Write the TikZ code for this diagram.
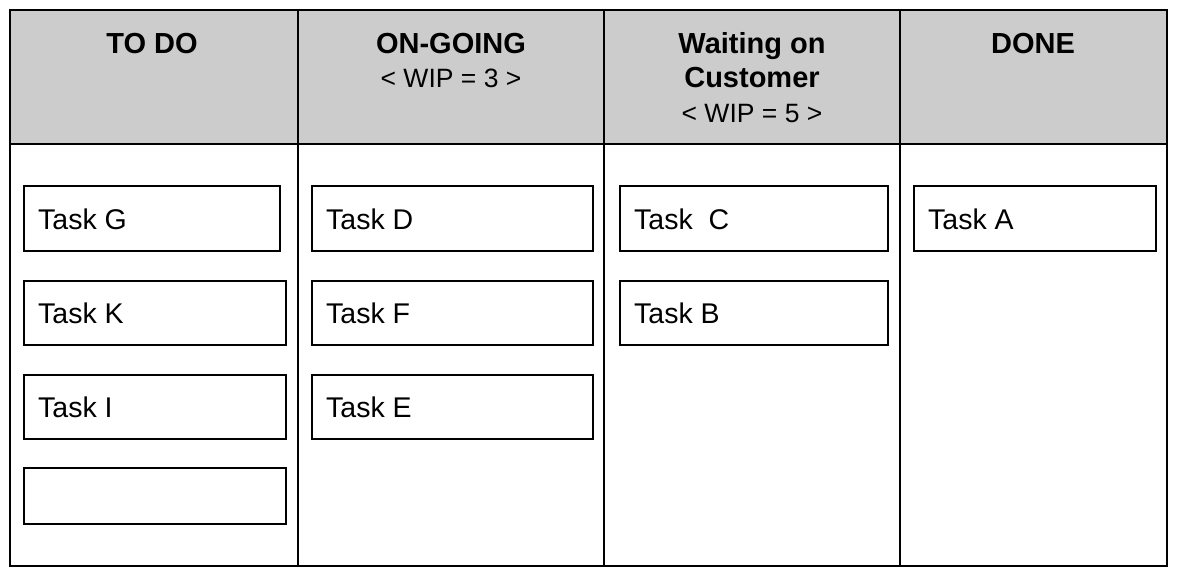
\documentclass[tikz,border=0pt]{standalone}
\usepackage{fontspec}
\setmainfont{Liberation Sans}
\begin{document}
\begin{tikzpicture}[x=1pt,y=-1pt,
  frame/.style={draw=black,line width=1.5pt},
  hdr/.style={fill=black!20,draw=black,line width=1.5pt},
  card/.style={draw=black,line width=1.7pt,fill=white},
  cardtext/.style={anchor=base west,inner sep=0pt,font=\fontsize{28.5}{33}\selectfont},
  htitle/.style={anchor=base,inner sep=0pt,font=\fontsize{29}{34}\selectfont\bfseries},
  hsub/.style={anchor=base,inner sep=0pt,font=\fontsize{26.5}{31}\selectfont}]
\useasboundingbox (0,0) rectangle (1178,584);
\fill[white] (0,0) rectangle (1178,584);
% header background
\path[hdr] (10,10) rectangle (1167,144);
% outer frame and lines
\draw[frame] (10,10) rectangle (1167,566);
\draw[frame] (10,144) -- (1167,144);
\draw[frame] (298,10) -- (298,566);
\draw[frame] (604,10) -- (604,566);
\draw[frame] (900,10) -- (900,566);
% headers
\node[htitle] (h1) at (152,53) {TO DO};
\node[htitle] (h2) at (451,53) {ON-GOING};
\node[hsub] (h2w) at (451,87) {< WIP = 3 >};
\node[htitle] (h3a) at (752,53) {Waiting on};
\node[htitle] (h3b) at (752,87) {Customer};
\node[hsub] (h3w) at (752,122) {< WIP = 5 >};
\node[htitle] (h4) at (1033,53) {DONE};
% cards TO DO
\draw[card] (24,186) rectangle (280,251);
\node[cardtext] (tg) at (38,229) {Task G};
\draw[card] (24,281) rectangle (286,345);
\node[cardtext] (tk) at (38,323) {Task K};
\draw[card] (24,375) rectangle (286,439);
\node[cardtext] (ti) at (38,417) {Task I};
\draw[card] (24,468) rectangle (286,524);
% ON-GOING
\draw[card] (312,186) rectangle (593,251);
\node[cardtext] (td) at (326,229) {Task D};
\draw[card] (312,281) rectangle (593,345);
\node[cardtext] (tf) at (326,323) {Task F};
\draw[card] (312,375) rectangle (593,439);
\node[cardtext] (te) at (326,417) {Task E};
% Waiting
\draw[card] (620,186) rectangle (888,251);
\node[cardtext] (tc) at (634,229) {Task\ \ C};
\draw[card] (620,281) rectangle (888,345);
\node[cardtext] (tb) at (634,323) {Task B};
% DONE
\draw[card] (914,186) rectangle (1156,251);
\node[cardtext] (ta) at (928,229) {Task A};
\end{tikzpicture}
\end{document}
